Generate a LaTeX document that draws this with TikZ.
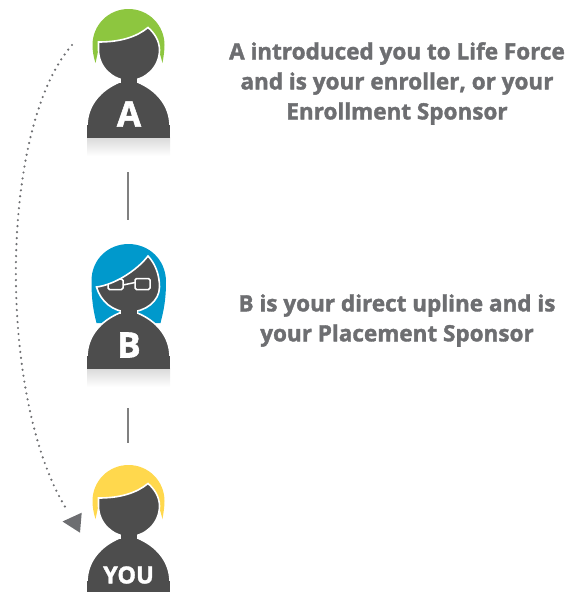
\documentclass[tikz,border=0pt]{standalone}
\usepackage{fontspec}
\setmainfont{Open Sans}[BoldFeatures={FakeBold=1.6}]
\definecolor{darkbody}{HTML}{4D4D4D}
\definecolor{inkgray}{HTML}{6D6E71}
\definecolor{linegray}{HTML}{808080}
\definecolor{hairgreen}{HTML}{8DC63F}
\definecolor{hairblue}{HTML}{0099CC}
\definecolor{hairyellow}{HTML}{FFD84D}
\tikzset{
    caption/.style={text=inkgray, font=\bfseries\fontsize{22.5}{30}\selectfont, align=center},
    badge/.style={text=white, font=\bfseries\fontsize{35}{35}\selectfont},
    smallbadge/.style={text=white, font=\bfseries\fontsize{23.5}{23.5}\selectfont},
    linkline/.style={draw=linegray, line width=1.5pt},
    outline/.style={fill=darkbody, draw=white, line width=1.6pt},
    pics/torso/.style={code={
        \shade[top color=black!14, bottom color=white] (-41.5,138) rectangle (41.5,156);
        \path[outline] (-41.5,137.5) -- (-41.5,125) .. controls (-41,105) and (-28,90) .. (-9,82)
            -- (9,82) .. controls (28,90) and (41,105) .. (41.5,125) -- (41.5,137.5);
        \fill[darkbody] (-41.5,125) rectangle (41.5,137.5);
    }},
    pics/shorthair/.style={code={
        \fill[#1] (-33,63) .. controls (-35,57) and (-36,51) .. (-36,45)
            .. controls (-36,25) and (-20,9) .. (0,9)
            .. controls (20,9) and (36,25) .. (36,45)
            .. controls (36,51) and (35,57) .. (34,63) -- (29,45) -- (-29,45) -- cycle;
        \pic {torso};
        \path[outline] (-30,42) .. controls (-8,42) and (8,37) .. (19.5,27.5)
            .. controls (26,33) and (31,41) .. (31,50)
            .. controls (31,67) and (17,80.5) .. (0.5,80.5)
            .. controls (-16,80.5) and (-30,67) .. (-30,50) -- cycle;
        \fill[darkbody] (-8,76) rectangle (8,84);
    }},
    pics/longhair/.style={code={
        \fill[#1] (-32,92) .. controls (-35,80) and (-37,70) .. (-37,50) .. controls (-37,28) and (-20,13) .. (0,13)
            .. controls (20,13) and (37,28) .. (37.5,50) .. controls (37.5,70) and (35,80) .. (32,92) -- cycle;
        \pic {torso};
        \path[outline] (-32,56) .. controls (-15,54) and (8,40) .. (19.5,25)
            .. controls (27,33) and (31,44) .. (31,56)
            .. controls (31,70) and (17,81) .. (0.5,81)
            .. controls (-16,81) and (-28,70) .. (-32,56) -- cycle;
        \fill[darkbody] (-8,77) rectangle (8,84);
        \begin{scope}
            \clip (-32,56) .. controls (-15,54) and (8,40) .. (19.5,25)
                -- (31,56) -- (31,70) -- (-32,70) -- cycle;
            \draw[white, line width=1.5pt, rounded corners=1.5pt] (6.5,47.5) rectangle (21.5,58.5);
            \draw[white, line width=1.5pt, rounded corners=1.5pt] (-20.5,48) rectangle (-5.5,58.5);
            \draw[white, line width=1.5pt] (-5.5,54) -- (6.5,51.5);
        \end{scope}
    }},
}

\begin{document}
\begin{tikzpicture}[x=1pt, y=-1pt]
    \useasboundingbox (0,0) rectangle (568,592);
    \pic at (128.5,0) {shorthair=hairgreen};
    \pic at (128.5,231) {longhair=hairblue};
    \pic at (128.5,456) {shorthair=hairyellow};
    \node[badge] (n0) at (129,114) {A};
    \node[badge] (n1) at (129,345) {B};
    \node[smallbadge] (n2) at (128.5,575) {YOU};
    \node[caption] (n3) at (397,83.5) {A introduced you to Life Force\\and is your enroller, or your\\Enrollment Sponsor};
    \node[caption] (n4) at (397,320.5) {B is your direct upline and is\\your Placement Sponsor};
    \coordinate (a0) at (128,172);
    \coordinate (a1) at (128,220);
    \coordinate (b0) at (128,408);
    \coordinate (b1) at (128,443);
    \coordinate (d0) at (72,45);
    \coordinate (d1) at (67,510);
    \draw[linkline] (a0) -- (a1);
    \draw[linkline] (b0) -- (b1);
    \draw[inkgray, line width=2.4pt, line cap=round, dash pattern=on 0pt off 6pt]
        (d0) .. controls (-2,130) and (-2,400) .. (d1);
    \fill[inkgray] (62.5,521.5) -- (81.7,512.7) -- (80,532.7) -- cycle;
\end{tikzpicture}
\end{document}
